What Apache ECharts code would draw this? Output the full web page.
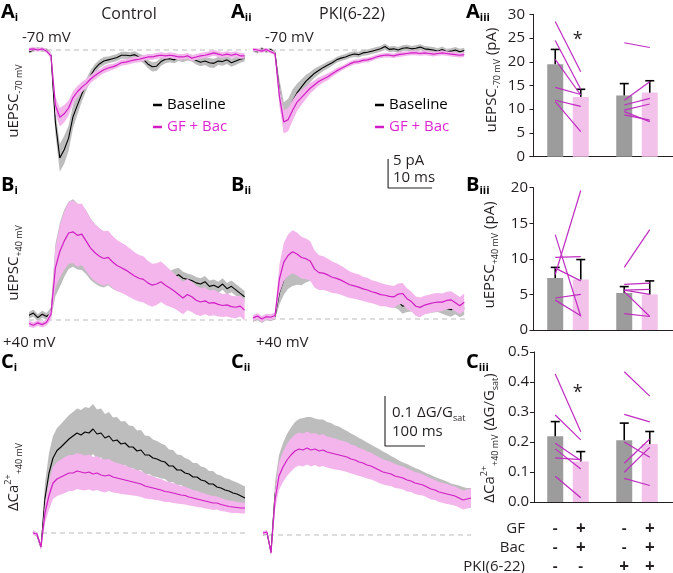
<!DOCTYPE html>
<html><head><meta charset="utf-8">
<script src="https://cdn.jsdelivr.net/npm/echarts@6/dist/echarts.min.js"></script>
<style>html,body{margin:0;padding:0;background:#fff}#c{width:673px;height:573px}</style>
</head><body><div id="c"></div>
<script>
// ---------- sample times ----------
const tA  = [0,1,2,3,4,5,6,7,8,9,10,11,12,13,14,15,16,17,18,19,20,21,22,23,24,25,26,27,28,29,30,31,32,33,34,35,36,37,38,39,40,41,42,43,44,45,46,47,48,49];
const tA2 = [0,1,2,3,4,5,6,7,8,9,10,11,12,13,14,15,16,17,18,19,20,21,22,23,24,25,26,27,28,29,30,31,32,33,34,35,36,37,38,39,40,41,42,43,44,45,46,47,48];
const tC  = [0,10,20,30,40,50,60,70,80,90,100,110,120,130,140,150,160,170,180,190,200,210,220,230,240,250,260,270,280,290,300,310,320,330,340,350,360,370,380,390,400,410,420,430,440,450,460,470,480,490,500,510,520,530];
const tC2 = [0,10,20,30,40,50,60,70,80,90,100,110,120,130,140,150,160,170,180,190,200,210,220,230,240,250,260,270,280,290,300,310,320,330,340,350,360,370,380,390,400,410,420,430,440,450,460,470,480,490,500,510,520];

// ---------- Ai: uEPSC -70 mV, control (pA) ----------
const aiBase = [-0.3,0.0,0.2,0.0,0.0,-0.9,-12.5,-18.6,-17.2,-15.2,-11.5,-9.5,-7.6,-6.0,-4.4,-3.2,-2.4,-1.9,-1.7,-1.5,-1.3,-0.9,-0.9,-1.0,-0.8,-1.2,-1.6,-2.4,-2.9,-2.8,-2.0,-1.6,-1.5,-1.7,-1.3,-1.5,-1.2,-1.4,-1.8,-2.1,-1.9,-2.2,-2.3,-1.9,-2.0,-1.7,-2.2,-1.9,-1.6,-1.4];
const aiBaseSem = [0.3,0.3,0.3,0.3,0.3,0.5,2.0,2.4,2.4,2.2,2.0,1.6,1.3,1.0,0.9,0.8,0.7,0.7,0.6,0.6,0.6,0.6,0.6,0.6,0.6,0.6,0.7,0.7,0.8,0.8,0.7,0.7,0.6,0.6,0.6,0.6,0.6,0.6,0.7,0.7,0.7,0.8,0.8,0.7,0.7,0.7,0.7,0.7,0.6,0.6];
const aiGF = [0.1,0.2,0.0,0.2,-0.2,-1.0,-9.5,-11.6,-11.0,-10.0,-8.2,-7.2,-6.4,-5.8,-5.0,-4.4,-3.9,-3.4,-3.1,-2.9,-2.6,-2.2,-2.1,-1.9,-1.7,-1.6,-1.4,-1.2,-1.2,-1.0,-0.9,-1.0,-0.9,-1.0,-1.2,-1.2,-1.0,-1.4,-1.2,-1.0,-0.9,-0.7,-0.5,-0.7,-0.9,-0.7,-0.9,-0.7,-1.0,-1.0];
const aiGFSem = [0.3,0.3,0.3,0.3,0.3,0.5,1.5,1.6,1.5,1.3,1.1,1.0,0.9,0.8,0.7,0.7,0.6,0.6,0.6,0.5,0.5,0.5,0.5,0.5,0.5,0.5,0.5,0.5,0.5,0.5,0.5,0.5,0.5,0.5,0.5,0.5,0.5,0.5,0.5,0.5,0.5,0.5,0.5,0.5,0.5,0.5,0.5,0.5,0.5,0.5];

// ---------- Aii: uEPSC -70 mV, PKI(6-22) ----------
const aiiBase = [0.0,-0.3,0.2,-0.2,0.1,-0.5,-7.0,-11.6,-10.8,-8.8,-7.4,-6.4,-5.4,-4.7,-4.0,-3.5,-3.0,-2.6,-2.2,-1.7,-1.4,-1.2,-0.9,-0.7,-0.8,-0.5,-0.4,-0.2,0.0,0.2,0.6,0.1,0.2,0.0,0.3,0.4,0.2,0.3,0.5,0.2,0.1,0.0,-0.2,0.1,-0.3,-0.2,0.0,-0.3,-0.1];
const aiiBaseSem = [0.3,0.3,0.3,0.3,0.3,0.3,2.0,2.6,2.4,2.0,1.6,1.3,1.1,0.9,0.8,0.7,0.6,0.6,0.5,0.5,0.5,0.5,0.5,0.5,0.5,0.5,0.5,0.5,0.5,0.5,0.5,0.5,0.5,0.5,0.5,0.5,0.5,0.5,0.5,0.5,0.5,0.5,0.5,0.5,0.5,0.5,0.5,0.5,0.5];
const aiiGF = [0.1,0.0,-0.2,0.1,-0.3,-0.6,-8.0,-12.4,-12.0,-10.4,-9.0,-8.2,-7.4,-6.6,-6.0,-5.4,-5.0,-4.6,-4.1,-3.6,-3.2,-2.8,-2.4,-2.1,-2.0,-1.8,-1.7,-1.5,-1.2,-1.0,-0.9,-0.9,-1.0,-0.8,-0.7,-0.6,-0.5,-0.5,-0.6,-0.5,-0.6,-0.7,-0.6,-0.5,-0.6,-0.7,-0.8,-0.9,-0.8];
const aiiGFSem = [0.3,0.3,0.3,0.3,0.3,0.3,1.6,2.0,2.0,1.8,1.5,1.3,1.1,0.9,0.8,0.7,0.6,0.6,0.5,0.5,0.4,0.4,0.4,0.4,0.4,0.4,0.4,0.4,0.4,0.4,0.4,0.4,0.4,0.4,0.4,0.4,0.4,0.4,0.4,0.4,0.4,0.4,0.4,0.4,0.4,0.4,0.4,0.4,0.4];

// ---------- Bi: uEPSC +40 mV, control ----------
const biBase = [0.8,1.2,0.4,1.0,0.6,1.2,8.6,11.2,13.2,14.6,15.0,14.4,14.2,13.4,12.2,11.4,10.8,10.4,10.6,9.8,9.2,8.8,8.4,8.0,7.6,7.4,7.2,6.8,6.6,6.8,7.0,6.8,6.6,7.4,7.8,7.2,7.0,6.8,6.4,6.2,6.6,5.8,6.0,5.6,6.2,5.4,5.8,5.2,4.6,4.0];
const biBaseSem = [0.6,0.6,0.6,0.6,0.6,1.0,4.5,5.5,5.8,5.8,5.8,5.7,5.6,5.5,5.3,5.1,5.0,4.8,4.6,4.4,4.2,4.0,3.8,3.6,3.4,3.2,3.0,2.8,2.6,2.4,2.2,2.0,1.8,1.4,1.2,1.1,1.0,1.0,1.0,1.0,1.0,1.0,1.0,1.0,1.0,1.0,1.0,1.0,1.0,1.0];
const biGF = [-0.6,-0.9,-0.5,-0.8,-0.4,1.0,9.0,11.8,13.6,15.0,15.2,14.6,14.8,13.6,12.4,11.6,11.0,10.6,10.8,10.0,9.4,9.0,8.6,8.1,7.6,7.2,7.0,6.4,6.0,6.2,6.6,6.0,5.5,5.0,4.4,3.8,4.4,4.0,3.4,3.1,3.3,2.9,3.0,2.7,2.5,2.6,2.3,2.2,2.4,1.7];
const biGFSem = [0.5,0.5,0.5,0.5,0.5,1.0,3.5,4.5,5.0,5.3,5.4,5.4,5.3,5.2,5.0,4.9,4.8,4.7,4.6,4.5,4.4,4.3,4.3,4.2,4.1,4.0,4.0,3.8,3.7,3.6,3.5,3.4,3.2,3.0,2.9,2.8,2.7,2.6,2.5,2.4,2.3,2.2,2.2,2.1,2.0,2.0,1.9,1.9,1.8,1.8];

// ---------- Bii: uEPSC +40 mV, PKI(6-22) ----------
const biiBase = [0.0,0.3,-0.2,0.3,0.1,0.4,4.5,6.7,7.8,8.3,8.4,8.2,8.6,8.8,8.2,7.8,7.6,7.4,7.0,6.8,6.4,6.1,5.7,5.4,5.2,5.0,4.7,4.4,4.2,3.9,3.7,3.4,3.3,3.0,2.2,2.4,2.5,2.0,1.8,2.0,2.2,2.3,2.4,2.1,1.8,1.6,2.0,1.5,1.9];
const biiBaseSem = [0.5,0.5,0.5,0.5,0.5,0.5,2.0,2.5,2.6,2.6,2.5,2.4,2.3,2.2,2.1,2.0,1.9,1.8,1.8,1.7,1.7,1.6,1.6,1.5,1.5,1.5,1.4,1.4,1.4,1.4,1.3,1.3,1.3,1.3,1.3,1.2,1.2,1.2,1.2,1.2,1.2,1.2,1.2,1.2,1.2,1.2,1.2,1.2,1.2];
const biiGF = [0.2,0.5,0.0,0.4,0.3,0.6,6.9,9.8,11.0,11.6,11.2,10.6,10.4,10.0,8.6,8.0,7.9,7.6,7.2,7.0,6.7,6.3,5.9,5.7,5.5,5.2,5.0,4.7,4.5,4.2,4.1,3.9,3.8,4.3,4.4,3.5,3.0,2.2,2.0,2.4,2.6,2.8,2.9,2.9,3.2,3.3,2.8,2.3,2.9];
const biiGFSem = [0.5,0.5,0.5,0.5,0.5,0.5,2.5,3.3,3.6,3.7,3.7,3.6,3.5,3.4,3.2,3.0,2.9,2.8,2.7,2.6,2.5,2.4,2.3,2.2,2.2,2.1,2.1,2.0,2.0,2.0,1.9,1.9,1.9,1.8,1.8,1.8,1.7,1.7,1.7,1.6,1.6,1.6,1.6,1.5,1.5,1.5,1.5,1.5,1.5];

// ---------- Ci: dCa2+ +40 mV, control (dG/Gsat) ----------
const ciBase = [0.002,-0.004,-0.028,0.07,0.12,0.15,0.165,0.172,0.18,0.188,0.194,0.2,0.196,0.202,0.2,0.208,0.198,0.2,0.19,0.194,0.184,0.186,0.178,0.18,0.172,0.172,0.164,0.166,0.156,0.156,0.15,0.148,0.144,0.142,0.134,0.134,0.126,0.126,0.12,0.118,0.112,0.112,0.106,0.104,0.098,0.098,0.092,0.09,0.086,0.084,0.08,0.078,0.074,0.07];
const ciBaseSem = [0.004,0.004,0.006,0.03,0.04,0.044,0.045,0.046,0.047,0.048,0.048,0.049,0.05,0.05,0.05,0.05,0.049,0.049,0.048,0.048,0.047,0.046,0.045,0.044,0.043,0.042,0.041,0.04,0.039,0.038,0.037,0.036,0.035,0.034,0.033,0.032,0.031,0.03,0.03,0.029,0.028,0.028,0.027,0.027,0.026,0.026,0.025,0.025,0.024,0.024,0.024,0.023,0.023,0.023];
const ciGF = [0.0,-0.002,-0.028,0.04,0.075,0.1,0.108,0.112,0.116,0.12,0.12,0.124,0.122,0.12,0.122,0.118,0.12,0.116,0.114,0.116,0.112,0.11,0.108,0.106,0.104,0.102,0.1,0.098,0.094,0.092,0.09,0.088,0.086,0.083,0.082,0.08,0.078,0.076,0.075,0.072,0.07,0.068,0.066,0.064,0.062,0.06,0.06,0.057,0.055,0.053,0.052,0.051,0.05,0.05];
const ciGFSem = [0.004,0.004,0.006,0.02,0.028,0.032,0.034,0.035,0.036,0.036,0.036,0.036,0.036,0.035,0.035,0.034,0.034,0.033,0.033,0.032,0.031,0.03,0.03,0.029,0.028,0.027,0.026,0.026,0.025,0.024,0.023,0.022,0.022,0.021,0.02,0.02,0.019,0.018,0.018,0.017,0.016,0.016,0.015,0.015,0.014,0.014,0.013,0.013,0.012,0.012,0.012,0.011,0.011,0.011];

// ---------- Cii: dCa2+ +40 mV, PKI(6-22) ----------
const ciiBase = [0.002,0.004,-0.034,0.08,0.13,0.152,0.168,0.18,0.19,0.196,0.198,0.2,0.2,0.198,0.196,0.196,0.192,0.19,0.186,0.184,0.18,0.176,0.172,0.168,0.164,0.16,0.156,0.152,0.148,0.144,0.14,0.136,0.132,0.128,0.124,0.12,0.117,0.114,0.11,0.107,0.104,0.1,0.097,0.094,0.091,0.088,0.085,0.082,0.08,0.078,0.075,0.074,0.074];
const ciiBaseSem = [0.004,0.004,0.006,0.025,0.03,0.032,0.034,0.035,0.036,0.036,0.036,0.036,0.036,0.035,0.035,0.035,0.034,0.034,0.033,0.033,0.032,0.032,0.031,0.031,0.03,0.03,0.029,0.029,0.028,0.028,0.027,0.027,0.026,0.026,0.025,0.025,0.025,0.024,0.024,0.024,0.023,0.023,0.023,0.022,0.022,0.022,0.022,0.021,0.021,0.021,0.021,0.02,0.02];
const ciiGF = [0.004,0.006,-0.036,0.07,0.118,0.136,0.15,0.16,0.168,0.172,0.17,0.174,0.17,0.172,0.168,0.17,0.166,0.164,0.162,0.16,0.158,0.156,0.152,0.15,0.146,0.144,0.14,0.138,0.134,0.13,0.126,0.124,0.122,0.118,0.116,0.114,0.11,0.108,0.104,0.102,0.1,0.096,0.092,0.09,0.086,0.084,0.082,0.08,0.078,0.074,0.07,0.072,0.074];
const ciiGFSem = [0.004,0.004,0.006,0.02,0.028,0.03,0.032,0.033,0.033,0.033,0.033,0.033,0.033,0.032,0.032,0.032,0.031,0.031,0.031,0.03,0.03,0.03,0.029,0.029,0.028,0.028,0.027,0.027,0.026,0.026,0.025,0.025,0.024,0.024,0.023,0.023,0.023,0.022,0.022,0.022,0.021,0.021,0.021,0.02,0.02,0.02,0.02,0.019,0.019,0.019,0.019,0.019,0.019];

// ---------- summary bars: [Ctrl Baseline, Ctrl GF+Bac, PKI Baseline, PKI GF+Bac] ----------
const groups = ['Control', 'PKI(6-22)'];
const conditions = ['Baseline', 'GF + Bac'];
const aMean = [19.5, 12.6, 12.9, 13.5];
const aSem  = [3.1, 1.6, 2.5, 2.5];
const aPairsCtrl = [[28.5,17.9],[24.5,14.2],[20.5,13.0],[14.6,13.1],[11.9,10.6],[11.6,5.3]];
const aPairsPki  = [[24.0,23.0],[11.9,15.8],[10.9,12.3],[9.8,11.1],[8.8,7.7],[9.5,7.4]];
const bMean = [7.3, 7.1, 5.2, 5.0];
const bSem  = [1.5, 2.8, 0.9, 1.9];
const bPairsCtrl = [[13.4,1.9],[10.2,10.3],[7.8,19.6],[8.7,6.9],[4.5,5.0],[4.2,2.0]];
const bPairsPki  = [[8.8,14.1],[6.4,6.6],[5.6,5.7],[5.4,1.9],[2.3,1.9],[5.6,5.0]];
const cMean = [0.219, 0.135, 0.206, 0.193];
const cSem  = [0.049, 0.033, 0.057, 0.042];
const cPairsCtrl = [[0.427,0.234],[0.29,0.207],[0.196,0.138],[0.177,0.11],[0.147,0.141],[0.086,0.014]];
const cPairsPki  = [[0.434,0.353],[0.292,0.267],[0.129,0.21],[0.099,0.182],[0.079,0.055],[0.2,0.149]];
const aStar = 24.6, cStar = 0.364;
const tableRows = ['GF', 'Bac', 'PKI(6-22)'];
const tableSigns = [['-','+','-','+'], ['-','+','-','+'], ['-','-','+','+']];

// ---------- styles / layout ----------
const FONT = "'Open Sans', 'DejaVu Sans', sans-serif";
const INK = '#231f20', MAG = '#d01ec4', GRAYBAND = '#bdbdbd', PINKBAND = '#f3b5ec',
      GRAYBAR = '#9c9c9c', PINKBAR = '#f2c2ea', PAIR = '#c02cc2', LEGMAG = '#e024d4';

const grids = [], xAxes = [], yAxes = [], series = [];

function addTraceGrid(x0, y0, px, py, xr, yr) {
  const gi = grids.length;
  grids.push({left: x0 + xr[0]*px, top: y0 - yr[1]*py, width: (xr[1]-xr[0])*px, height: (yr[1]-yr[0])*py,
              containLabel: false, outerBoundsMode: 'none'});
  xAxes.push({gridIndex: gi, type: 'value', min: xr[0], max: xr[1], show: false});
  yAxes.push({gridIndex: gi, type: 'value', min: yr[0], max: yr[1], show: false});
  return gi;
}
const zip = (t, v) => t.map((x, i) => [x, v[i]]);
function lineS(gi, data, color, name, width, dash, z) {
  return {type: 'line', name, xAxisIndex: gi, yAxisIndex: gi, data, symbol: 'none', showSymbol: false,
          silent: true, color, z: z || 6, lineStyle: {color, width: width || 1.1, type: dash || 'solid'}, clip: false};
}
function bandS(gi, t, mean, sem, color, z) {
  return {type: 'custom', name: 'band', xAxisIndex: gi, yAxisIndex: gi, data: [[t[0], mean[0]]], silent: true, clip: false, z,
    renderItem: (p, api) => {
      const pts = [];
      for (let i = 0; i < t.length; i++) pts.push(api.coord([t[i], mean[i] + sem[i]]));
      for (let i = t.length - 1; i >= 0; i--) pts.push(api.coord([t[i], mean[i] - sem[i]]));
      return {type: 'polygon', shape: {points: pts}, style: {fill: color, stroke: null}};
    }};
}
function tracePanel(gi, t, base, baseSem, gf, gfSem, dashFrom, dashTo) {
  series.push(lineS(gi, [[dashFrom, 0], [dashTo, 0]], '#bbbbbb', 'zero', 1, [5, 4], 1));
  series.push(bandS(gi, t, base, baseSem, GRAYBAND, 2));
  series.push(lineS(gi, zip(t, base), '#000000', conditions[0], 1.1, 'solid', 3));
  series.push(bandS(gi, t, gf, gfSem, PINKBAND, 4));
  series.push(lineS(gi, zip(t, gf), MAG, conditions[1], 1.2, 'solid', 5));
}

// trace panels (pixel anchor of (0,0), px per unit)
const gAi  = addTraceGrid(29, 50, 4.4, 5.8, [-0.5, 50], [-22, 4]);
const gAii = addTraceGrid(253, 50, 4.4, 5.8, [-0.5, 50], [-25, 4]);
const gBi  = addTraceGrid(29, 320, 4.4, 5.8, [-0.5, 50], [-3, 22]);
const gBii = addTraceGrid(253, 319, 4.4, 5.8, [-0.5, 50], [-3, 22]);
const gCi  = addTraceGrid(33, 533, 0.4, 500, [-5, 540], [-0.06, 0.27]);
const gCii = addTraceGrid(263, 535, 0.4, 500, [-5, 530], [-0.06, 0.29]);
tracePanel(gAi, tA, aiBase, aiBaseSem, aiGF, aiGFSem, 0, 49.5);
tracePanel(gAii, tA2, aiiBase, aiiBaseSem, aiiGF, aiiGFSem, 0, 49);
tracePanel(gBi, tA, biBase, biBaseSem, biGF, biGFSem, 0, 49.5);
tracePanel(gBii, tA2, biiBase, biiBaseSem, biiGF, biiGFSem, 0, 48.5);
tracePanel(gCi, tC, ciBase, ciBaseSem, ciGF, ciGFSem, 0, 535);
tracePanel(gCii, tC2, ciiBase, ciiBaseSem, ciiGF, ciiGFSem, 15, 520);

// scale bars (10 ms / 5 pA ; 100 ms / 0.1 dG/Gsat)
series.push(lineS(gAii, [[30.7, -18.8], [30.7, -23.8], [40.7, -23.8]], INK, 'scale', 1.1, 'solid', 6));
series.push(lineS(gCii, [[305, 0.278], [305, 0.178], [405, 0.178]], INK, 'scale', 1.1, 'solid', 6));

// bar panels
const slotX = [0.315, 0.685, 1.315, 1.685];
function addBarGrid(left, top, height, ymax, step, fmt) {
  const gi = grids.length;
  grids.push({left, top, height, right: 0, containLabel: false, outerBoundsMode: 'none'});
  xAxes.push({gridIndex: gi, type: 'value', min: (left - 533.5)/69, max: (673 - 533.5)/69,
    axisLine: {show: true, onZero: false, lineStyle: {color: INK, width: 1}}, axisTick: {show: false},
    axisLabel: {show: false}, splitLine: {show: false}});
  yAxes.push({gridIndex: gi, type: 'value', min: 0, max: ymax, interval: step,
    axisLine: {show: true, lineStyle: {color: INK, width: 1}},
    axisTick: {show: true, length: 4, lineStyle: {color: INK, width: 1}},
    axisLabel: {fontFamily: FONT, fontSize: 15, color: INK, margin: 5, formatter: fmt},
    splitLine: {show: false}});
  return gi;
}
function barPanel(gi, means, sems, pc, pp, star) {
  series.push({type: 'bar', xAxisIndex: gi, yAxisIndex: gi, barWidth: 16, silent: true,
    data: means.map((m, i) => ({value: [slotX[i], m], itemStyle: {color: i % 2 ? PINKBAR : GRAYBAR}}))});
  series.push({type: 'custom', xAxisIndex: gi, yAxisIndex: gi, silent: true, z: 4,
    data: means.map((m, i) => [slotX[i], m, m + sems[i]]),
    renderItem: (p, api) => {
      const a = api.coord([api.value(0), api.value(1)]), b = api.coord([api.value(0), api.value(2)]);
      return {type: 'group', children: [
        {type: 'line', shape: {x1: a[0], y1: a[1], x2: b[0], y2: b[1]}, style: {stroke: '#000', lineWidth: 1.6}},
        {type: 'line', shape: {x1: b[0]-4.5, y1: b[1], x2: b[0]+4.5, y2: b[1]}, style: {stroke: '#000', lineWidth: 1.6}}]};
    }});
  const pairs = pc.map(v => [slotX[0], v[0], slotX[1], v[1]]).concat(pp.map(v => [slotX[2], v[0], slotX[3], v[1]]));
  series.push({type: 'custom', xAxisIndex: gi, yAxisIndex: gi, silent: true, z: 5, data: pairs,
    renderItem: (p, api) => {
      const a = api.coord([api.value(0), api.value(1)]), b = api.coord([api.value(2), api.value(3)]);
      return {type: 'line', shape: {x1: a[0], y1: a[1], x2: b[0], y2: b[1]}, style: {stroke: PAIR, lineWidth: 1.2}};
    }});
  if (star != null) series.push({type: 'custom', xAxisIndex: gi, yAxisIndex: gi, silent: true, z: 5,
    data: [[slotX[1], star]],
    renderItem: (p, api) => {
      const a = api.coord([api.value(0), api.value(1)]);
      return {type: 'text', x: a[0] - 3, y: a[1], style: {text: '*', font: '18px ' + FONT, fill: INK, align: 'center', verticalAlign: 'middle'}};
    }});
}
const gAiii = addBarGrid(530, 14.3, 142.4, 30, 5, v => v);
const gBiii = addBarGrid(533, 187.7, 142.3, 20, 5, v => v);
const gCiii = addBarGrid(534, 352, 150, 0.5, 0.1, v => v.toFixed(1));
barPanel(gAiii, aMean, aSem, aPairsCtrl, aPairsPki, aStar);
barPanel(gBiii, bMean, bSem, bPairsCtrl, bPairsPki, null);
barPanel(gCiii, cMean, cSem, cPairsCtrl, cPairsPki, cStar);

// condition table under Ciii
series.push({type: 'custom', xAxisIndex: gCiii, yAxisIndex: gCiii, silent: true, data: [[1, 0], [1, 0], [1, 0]],
  renderItem: (p, api) => {
    const r = p.dataIndex;
    const base = api.coord([0, 0]);
    const y = base[1] + 27 + r * 19;
    const kids = [{type: 'text', x: 525, y, style: {text: tableRows[r], font: '15px ' + FONT, fill: INK, align: 'right', verticalAlign: 'middle'}}];
    tableSigns[r].forEach((s, k) => {
      const x = api.coord([slotX[k], 0])[0];
      kids.push({type: 'text', x, y, style: {text: s, font: (s === '+' ? 'bold 17px ' : 'bold 15px ') + FONT, fill: INK, align: 'center', verticalAlign: 'middle'}});
    });
    return {type: 'group', children: kids};
  }});

// ---------- text ----------
function rich(size) {
  return {
    m: {fontSize: size, fontFamily: FONT, fill: INK, lineHeight: size + 5},
    s: {fontSize: 9, fontFamily: FONT, fill: INK, lineHeight: 9, verticalAlign: 'bottom'},
    p: {fontSize: 9, fontFamily: FONT, fill: INK, lineHeight: 9, verticalAlign: 'top'}
  };
}
const G = [];
function txt(x, y, text, opt) {
  G.push(Object.assign({type: 'text', x, y, silent: true,
    style: Object.assign({text, font: '15px ' + FONT, fill: INK, align: 'left', verticalAlign: 'middle'}, opt || {})}));
}
function panelLabel(x, y, L, sub) {
  G.push({type: 'text', x, y, silent: true, style: {text: '{L|' + L + '}{s|' + sub + '}', align: 'left', verticalAlign: 'middle',
    rich: {L: {fontSize: 20, fontWeight: 'bold', fontFamily: FONT, fill: '#000', lineHeight: 22},
           s: {fontSize: 11, fontWeight: 'bold', fontFamily: FONT, fill: '#000', lineHeight: 11, verticalAlign: 'bottom'}}}});
}
function vLabel(x, y, text) {
  G.push({type: 'text', x, y, rotation: Math.PI / 2, silent: true,
    style: {text, rich: rich(15), align: 'center', verticalAlign: 'middle'}});
}
panelLabel(1, 12, 'A', 'i'); panelLabel(231, 12, 'A', 'ii'); panelLabel(466, 12, 'A', 'iii');
panelLabel(1, 185, 'B', 'i'); panelLabel(231, 185, 'B', 'ii'); panelLabel(466, 185, 'B', 'iii');
panelLabel(1, 362, 'C', 'i'); panelLabel(231, 362, 'C', 'ii'); panelLabel(466, 362, 'C', 'iii');
txt(129, 14, groups[0], {align: 'center', font: '16px ' + FONT});
txt(352, 14, groups[1], {align: 'center', font: '16px ' + FONT});
txt(22, 38, '-70 mV'); txt(265, 38, '-70 mV');
txt(3, 343, '+40 mV'); txt(256, 343, '+40 mV');
txt(393, 161, '5 pA'); txt(393, 178, '10 ms');
G.push({type: 'text', x: 392, y: 413, silent: true, style: {text: '{m|0.1 ΔG/G}{s|sat}', rich: rich(15), align: 'left', verticalAlign: 'middle'}});
txt(392, 432, '100 ms');
vLabel(14, 101, '{m|uEPSC}{s|-70 mV}');
vLabel(14, 263, '{m|uEPSC}{s|+40 mV}');
vLabel(14, 477, '{m|ΔCa}{p|2+}{s|+40 mV}');
vLabel(492, 80, '{m|uEPSC}{s|-70 mV}{m| (pA)}');
vLabel(490, 255, '{m|uEPSC}{s|+40 mV}{m| (pA)}');
vLabel(490, 438, '{m|ΔCa}{p|2+}{s|+40 mV}{m| (ΔG/G}{s|sat}{m|)}');

function legendAt(left) {
  return {left, top: 92, orient: 'vertical', icon: 'rect', itemWidth: 9, itemHeight: 2.5, itemGap: 6,
    selectedMode: false,
    textStyle: {fontFamily: FONT, fontSize: 15, lineHeight: 16},
    data: [{name: conditions[0], textStyle: {color: '#000'}}, {name: conditions[1], textStyle: {color: LEGMAG}}]};
}

const chart = echarts.init(document.getElementById('c'), null, {renderer: 'canvas'});
chart.setOption({
  animation: false, backgroundColor: '#fff',
  grid: grids, xAxis: xAxes, yAxis: yAxes, series,
  legend: [legendAt(148), legendAt(370)],
  graphic: {elements: G}
});
</script></body></html>
